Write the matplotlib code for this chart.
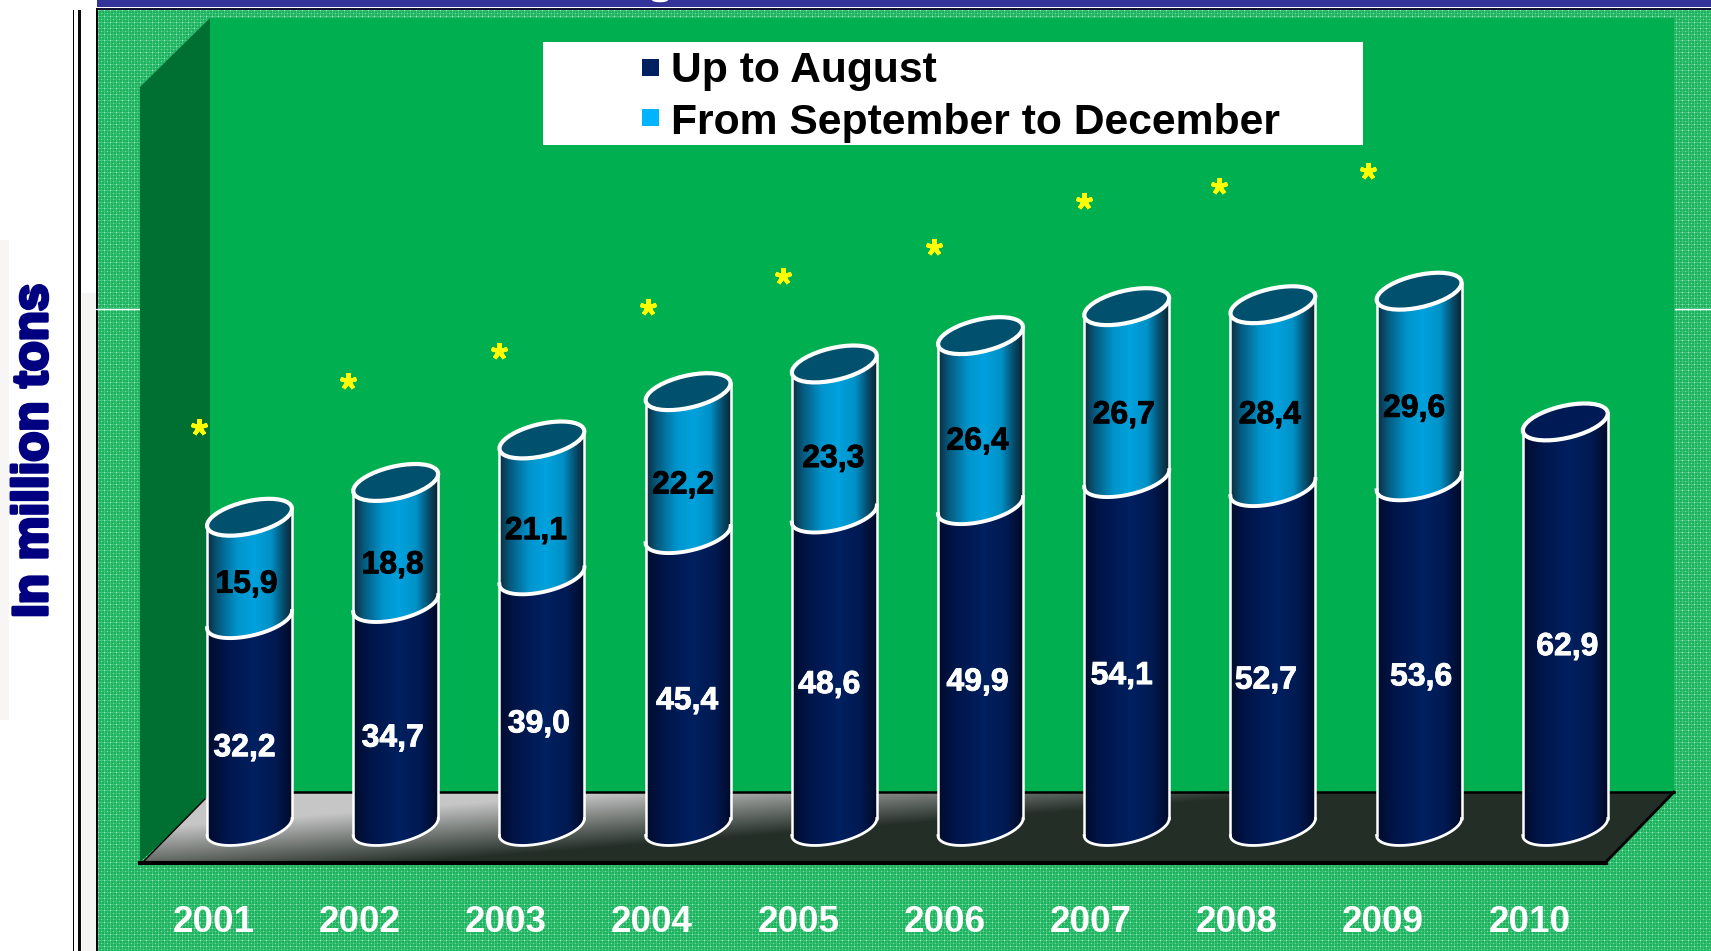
import numpy as np
import matplotlib
matplotlib.use("Agg")
import matplotlib.pyplot as plt
import matplotlib.patheffects as pe
from matplotlib.colors import LinearSegmentedColormap
from matplotlib.patches import Ellipse, Polygon, Rectangle

plt.rcParams["font.family"] = ["Liberation Sans", "DejaVu Sans"]

years = ["2001", "2002", "2003", "2004", "2005", "2006", "2007", "2008", "2009", "2010"]
up_to_august = [32.2, 34.7, 39.0, 45.4, 48.6, 49.9, 54.1, 52.7, 53.6, 62.9]
sep_to_dec = [15.9, 18.8, 21.1, 22.2, 23.3, 26.4, 26.7, 28.4, 29.6]

# asterisks above the bars (category position, height in million tons)
star_x = [-0.345, 0.674, 1.707, 2.726, 3.649, 4.682, 5.708, 6.631, 7.65]
star_y = [62.1, 69.3, 73.9, 80.7, 85.6, 90.1, 97.2, 99.5, 101.9]

# where the value labels sit in the picture
low_label_y = [12.7, 14.2, 16.4, 20.0, 22.5, 22.9, 23.9, 23.2, 23.7, 28.4]
low_label_dx = [-5, -3, -3, -1, -5, -3, -5, -7, 2, 2]
top_label_y = [38.1, 41.1, 46.4, 53.5, 57.6, 60.3, 64.4, 64.4, 65.4]
top_label_dx = [-3, -3, -6, -5, -1, -3, -3, -3, -5]

W, H = 1711, 951
X0, X_STEP = 249.5, 146.2   # pixel of first bar, pixels per category
Y0, Y_STEP = 827.0, 6.44    # pixel of value 0, pixels per million tons
X_LOW, X_HIGH = -1.0, 10.0
Y_LOW, Y_HIGH = -8.0, 110.0

RX = 42.5 / X_STEP          # cylinder half width
RY = 16.4 / Y_STEP          # ellipse half height
TILT = 8.5 / Y_STEP         # right side of the ellipse sits higher
LABEL_NUDGE = 3.0 / Y_STEP  # va="center" sits a little high for digits

light_cmap = LinearSegmentedColormap.from_list(
    "light", [(0, "#0c2c3c"), (0.12, "#06587c"), (0.35, "#0094cc"), (0.55, "#00a2de"),
              (0.75, "#0090c6"), (0.9, "#064a68"), (1, "#0c2430")])
navy_cmap = LinearSegmentedColormap.from_list(
    "navy", [(0, "#000c2c"), (0.2, "#00154a"), (0.55, "#002060"), (0.8, "#001a52"), (1, "#000a28")])

fig = plt.figure(figsize=(W / 100, H / 100), dpi=100, facecolor="white")

# ------------------------------------------------------------
# Slide background, drawn in pixel coordinates
# ------------------------------------------------------------
bg = fig.add_axes([0, 0, 1, 1], zorder=0)
bg.set_xlim(0, W)
bg.set_ylim(H, 0)
bg.axis("off")

bg.add_patch(Rectangle((0, 240), 9, 480, color="#f7f6f5", lw=0))
bg.add_patch(Rectangle((82, 293), 14, H - 293, color="#f6f4f2", lw=0))

tile = np.zeros((6, 6, 3))
tile[:] = (28, 176, 92)
tile[:, 0] = (72, 200, 130)
tile[0, :] = (72, 200, 130)
tile[3, :] = (52, 190, 112)
tile[:, 3] = (52, 190, 112)
tile[0, 0] = (150, 228, 185)
tile[3, 3] = (110, 215, 155)
texture = np.tile(tile, (H // 6 + 1, W // 6 + 1, 1))[:H - 10, :W - 98] / 255
bg.imshow(texture, extent=(98, W, H, 10), interpolation="nearest", aspect="auto", zorder=1)

bg.add_patch(Rectangle((97, 0), W - 97, 6.7, color="#333399", lw=0, zorder=2))
bg.add_patch(Rectangle((96, 7.8), W - 96, 2, color="#101030", lw=0, zorder=2))
bg.add_patch(Rectangle((96, 8), 2.5, H - 8, color="black", lw=0, zorder=2))
bg.add_patch(Rectangle((78, 10), 3, H - 10, color="#0a0a0a", lw=0, zorder=2))
bg.add_patch(Rectangle((73, 10), 1, H - 10, color="black", lw=0, zorder=2))
# tail of a title letter that the crop leaves at the very top
bg.add_patch(Ellipse((660, 0), 16, 4.5, color="white", lw=0, zorder=3))

# white ticks either side of the wall
bg.plot([96, 140], [308.5, 308.5], color="white", lw=1.0, zorder=3)
bg.plot([1675, W], [308.5, 308.5], color="white", lw=1.0, zorder=3)

# back wall, side wall
bg.add_patch(Rectangle((210, 18), 1674 - 210, 792 - 18, color="#00b050", lw=0, zorder=3))
bg.add_patch(Polygon([(140, 87), (210, 18), (210, 798), (140, 862)], closed=True,
                     color="#006f32", lw=0, zorder=4))

# floor with its grey to dark shading
fx, fy = np.meshgrid(np.arange(130, 1680), np.arange(790, 866))
edge = 850 - 0.078 * (fx - 565)
shade = np.clip((fy - edge + 55) / 55, 0, 1)[..., None]
floor_img = (1 - shade) * np.array([198, 198, 198]) + shade * np.array([35, 46, 39])
im = bg.imshow(floor_img / 255, extent=(130, 1680, 866, 790), aspect="auto", zorder=5,
               interpolation="bilinear")
floor_poly = Polygon([(143, 862), (212, 792), (1674, 792), (1605, 863)], closed=True,
                     transform=bg.transData, fc="none", ec="none")
bg.add_patch(floor_poly)
im.set_clip_path(floor_poly)
bg.plot([212, 1674], [792, 792], color="black", lw=1.8, zorder=6)
bg.plot([140, 1606], [862.5, 862.5], color="black", lw=3, zorder=6)
bg.plot([143, 205], [862, 799], color="black", lw=1, zorder=6)
bg.plot([1605, 1674], [863, 792], color="black", lw=2, zorder=6)
bg.set_xlim(0, W)
bg.set_ylim(H, 0)

# legend box, as drawn on the slide
bg.add_patch(Rectangle((543, 42), 820, 103, color="white", lw=0, zorder=7))
bg.add_patch(Rectangle((642, 59), 17, 17, color="#00205f", lw=0, zorder=8))
bg.add_patch(Rectangle((642, 109), 17, 17, color="#00b4ff", lw=0, zorder=8))
bg.text(671.5, 82, "Up to August", fontsize=30.7, fontweight="bold", va="baseline", zorder=8)
bg.text(671.5, 134, "From September to December", fontsize=30.7, fontweight="bold",
        va="baseline", zorder=8)

bg.text(47, 451, "In million tons", rotation=90, rotation_mode="anchor", ha="center",
        va="baseline", fontsize=35.5, fontweight="bold", color="#000080", zorder=8,
        path_effects=[pe.withStroke(linewidth=2.5, foreground="#000080")])

# ------------------------------------------------------------
# Bars, on real scales: category along x, million tons along y
# ------------------------------------------------------------
ax = fig.add_axes([(X0 + X_LOW * X_STEP) / W, 1 - (Y0 - Y_LOW * Y_STEP) / H,
                   (X_HIGH - X_LOW) * X_STEP / W, (Y_HIGH - Y_LOW) * Y_STEP / H], zorder=1)
ax.patch.set_alpha(0)


def arc(x, v, start, stop):
    t = np.linspace(start, stop, 40)
    return x + RX * np.cos(t), v + TILT * np.cos(t) + RY * np.sin(t)


def segment(x, low, high, cmap, z):
    # side of the cylinder: front arc of the lower end, front arc of the upper end
    xa, ya = arc(x, low, np.pi, 2 * np.pi)
    xb, yb = arc(x, high, 2 * np.pi, np.pi)
    clip = Polygon(np.column_stack([np.r_[xa, xb], np.r_[ya, yb]]), closed=True,
                   transform=ax.transData, fc="none", ec="none")
    ax.add_patch(clip)
    grad = np.linspace(0, 1, 128)[None, :]
    img = ax.imshow(grad, cmap=cmap, extent=(x - RX, x + RX, low - RY - TILT, high + RY + TILT),
                    aspect="auto", zorder=z)
    img.set_clip_path(clip)
    ax.plot([x - RX, x - RX], [low - TILT, high - TILT], color="white", lw=1.8, zorder=z + 1,
            solid_capstyle="round")
    ax.plot([x + RX, x + RX], [low + TILT, high + TILT], color="white", lw=1.8, zorder=z + 1,
            solid_capstyle="round")


def cap(x, v, color, z):
    xc, yc = arc(x, v, 0, 2 * np.pi)
    ax.fill(xc, yc, facecolor=color, edgecolor="white", lw=3.0, zorder=z)


heavy = [pe.withStroke(linewidth=0.6, foreground="white")]
heavy_dark = [pe.withStroke(linewidth=0.6, foreground="black")]

for i, year in enumerate(years):
    low = up_to_august[i]
    if i < len(sep_to_dec):
        total = low + sep_to_dec[i]
        segment(i, 0, low, navy_cmap, 3)
        segment(i, low, total, light_cmap, 5)
        xs, ys = arc(i, low, np.pi, 2 * np.pi)
        ax.plot(xs, ys, color="white", lw=2.8, zorder=7)
        cap(i, total, "#00506e", 8)
        ax.text(i + top_label_dx[i] / X_STEP, top_label_y[i] - LABEL_NUDGE,
                f"{sep_to_dec[i]:.1f}".replace(".", ","), color="black", fontsize=23,
                fontweight="bold", ha="center", va="center", zorder=10, path_effects=heavy_dark)
    else:
        segment(i, 0, low, navy_cmap, 3)
        cap(i, low, "#001a55", 8)
    xs, ys = arc(i, 0, np.pi, 2 * np.pi)
    ax.plot(xs, ys, color="white", lw=2.0, zorder=7)
    ax.text(i + low_label_dx[i] / X_STEP, low_label_y[i] - LABEL_NUDGE,
            f"{low:.1f}".replace(".", ","), color="white", fontsize=23, fontweight="bold",
            ha="center", va="center", zorder=10, path_effects=heavy)
    # year labels sit below the front edge of the floor, left of the bar
    ax.text(i - 36 / X_STEP, (Y0 - 922) / Y_STEP, year, color="white", fontsize=26.6,
            fontweight="bold", ha="center", va="center", zorder=10, clip_on=False)

ax.plot(star_x, star_y, linestyle="none", marker=(5, 2, 0), markersize=12, mew=3,
        color="#ffff00", zorder=10, clip_on=False)
ax.set_xlim(X_LOW, X_HIGH)
ax.set_ylim(Y_LOW, Y_HIGH)
ax.axis("off")

fig.savefig("out.png", dpi=100)
plt.close(fig)
